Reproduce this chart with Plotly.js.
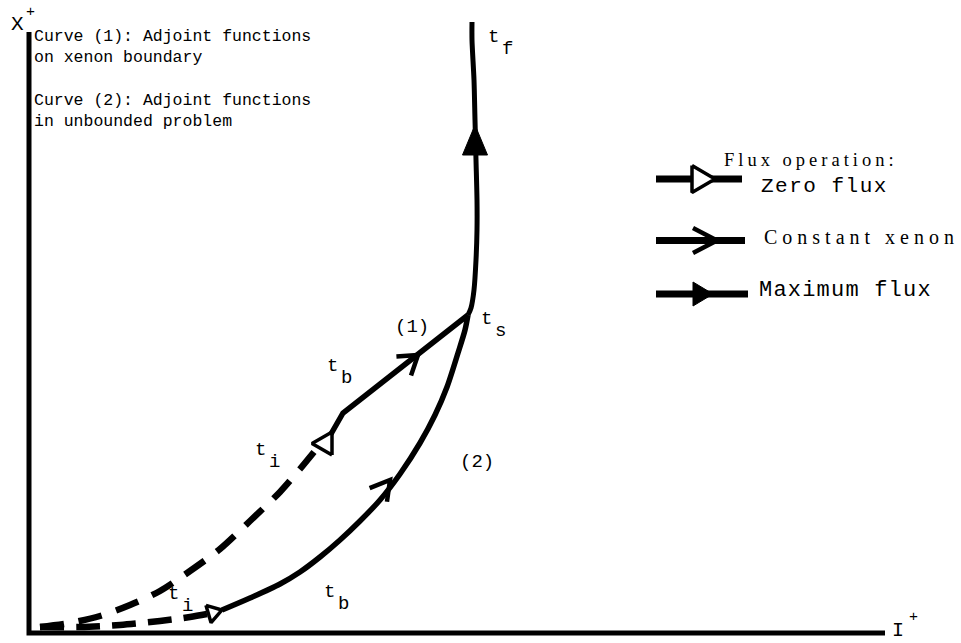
<!DOCTYPE html>
<html>
<head>
<meta charset="utf-8">
<script src="https://cdn.plot.ly/plotly-3.0.1.min.js"></script>
<style>
  html, body { margin: 0; padding: 0; background: #ffffff; }
  #chart { width: 961px; height: 643px; }
</style>
</head>
<body>
<div id="chart"></div>
<script>
// Phase-plane sketch: X+ (vertical) against I+ (horizontal), origin at the axes corner.

// Axes drawn as one L-shaped line
const axisX = [0, 0, 856];
const axisY = [601, 0, 0];

// Common trunk from t_s up to t_f (maximum flux)
const trunkX = [439, 442, 445, 447, 448, 448, 447, 446, 445, 443, 443];
const trunkY = [318, 325, 343, 373, 403, 433, 473, 513, 553, 593, 611];

// Curve (1): dashed zero-flux leg, then constant-xenon segment to t_s
const curve1DashX = [11, 41, 71, 101, 131, 161, 191, 221, 251, 271, 285];
const curve1DashY = [6, 10, 17, 28, 42, 62, 84, 112, 141, 164, 181];
const curve1X = [302, 308, 314, 439];
const curve1Y = [199, 211, 220, 318];

// Curve (2): dashed zero-flux leg, then constant-xenon arc to t_s
const curve2DashX = [11, 51, 91, 131, 161, 178];
const curve2DashY = [6, 6, 8, 12, 16, 19];
const curve2X = [193, 221, 251, 271, 291, 311, 331, 351, 371, 391, 406, 418, 429, 436, 439];
const curve2Y = [23, 35, 49, 61, 76, 93, 112, 133, 159, 190, 218, 246, 280, 303, 318];

// Direction marks along the paths
const headKind = ['open', 'open', 'solid', 'chevron', 'chevron'];
const headX = [179.5, 303, 446, 389, 361];
const headY = [19, 189.5, 478, 278, 153];
const headDir = [16.5, 180, 90, 37.5, 52];

// Point labels (t_i, t_b, t_s, t_f and curve numbers)
const labelMain = ['t', 't', '(1)', 't', 't', '(2)', 't', 't'];
const labelSub = ['f', 's', '', 'b', 'i', '', 'i', 'b'];
const labelX = [464, 457, 383, 303, 231, 448, 144, 300];
const labelY = [596, 314, 306, 267, 183, 171, 39, 41];

// Key for the flux operations
const keyTitle = 'Flux operation:';
const keyLabels = ['Zero flux', 'Constant xenon', 'Maximum flux'];
const keyKind = ['open', 'chevron', 'solid'];
const keyRowY = [454, 392.5, 339];

// ---- styling ----
const INK = '#000000';
const MONO = 'Liberation Mono, Courier New, monospace';
const SERIF = 'Liberation Serif, Times New Roman, serif';
const headSize = { open: [[14, 9], [20, 11.5]], solid: [[30, 12.5]], chevron: [[18, 12], [19, 11]] };
const keyLine = { x0: 627, x1: [713, 716, 719] };
const keyHead = { x: [663, 688, 664], len: [23, 24, 20], half: [13.5, 12.5, 12] };
const keyText = { x: [730, 733, 728], y: [447, 396, 343], spacing: [1.5, 5, 1.2],
                  font: [MONO, SERIF, MONO], size: [21, 20, 22] };
const subShift = [14.5, -12];

function arrowHead(kind, x, y, dirDeg, len, half) {
  const a = dirDeg * Math.PI / 180;
  const ux = Math.cos(a), uy = Math.sin(a);
  const px = -uy, py = ux;
  let xs, ys;
  if (kind === 'chevron') {
    const bx = x - ux * len, by = y - uy * len;
    xs = [bx + px * half, x, bx - px * half];
    ys = [by + py * half, y, by - py * half];
    return { type: 'scatter', mode: 'lines', x: xs, y: ys, hoverinfo: 'skip',
             line: { color: INK, width: 4.5 } };
  }
  const tx = x + ux * len, ty = y + uy * len;
  xs = [x + px * half, tx, x - px * half, x + px * half];
  ys = [y + py * half, ty, y - py * half, y + py * half];
  return { type: 'scatter', mode: 'lines', x: xs, y: ys, fill: 'toself', hoverinfo: 'skip',
           fillcolor: kind === 'solid' ? INK : '#ffffff',
           line: { color: INK, width: kind === 'solid' ? 1 : 3.5 } };
}

function path(x, y, width, opts) {
  return Object.assign({ type: 'scatter', mode: 'lines', x: x, y: y, hoverinfo: 'skip',
    line: Object.assign({ color: INK, width: width }, opts || {}) });
}

const traces = [];
traces.push(path(axisX, axisY, 5));
traces.push(path(trunkX, trunkY, 5, { shape: 'spline', smoothing: 0.8 }));
traces.push(path(curve1DashX, curve1DashY, 6.5, { shape: 'spline', smoothing: 0.8, dash: '24px,15px' }));
traces.push(path(curve1X, curve1Y, 5.5));
traces.push(path(curve2DashX, curve2DashY, 6.5, { shape: 'spline', smoothing: 0.8, dash: '24px,12px' }));
traces.push(path(curve2X, curve2Y, 5.5, { shape: 'spline', smoothing: 0.8 }));

const used = { open: 0, solid: 0, chevron: 0 };
headKind.forEach((k, i) => {
  const s = headSize[k][used[k]++];
  traces.push(arrowHead(k, headX[i], headY[i], headDir[i], s[0], s[1]));
});

keyLabels.forEach((lab, i) => {
  traces.push(path([keyLine.x0, keyLine.x1[i]], [keyRowY[i], keyRowY[i]], 7));
  traces.push(arrowHead(keyKind[i], keyHead.x[i], keyRowY[i], 0, keyHead.len[i], keyHead.half[i]));
});

const annotations = [];
const spacing = {};
function note(text, x, y, font, size, xanchor, yanchor) {
  const xa = xanchor || 'center';
  annotations.push({ text: text, x: x, y: y, xref: 'x', yref: 'y', showarrow: false,
    xanchor: xa, yanchor: yanchor || 'middle', align: xa,
    font: { family: font, size: size, color: INK } });
  return annotations.length - 1;
}

// axis names
note('X', -12, 609, MONO, 21);
note('+', 1, 621, MONO, 15);
note('I', 869, 3, MONO, 20);
note('+', 884, 16, MONO, 15);

// curve descriptions
note('Curve (1): Adjoint functions<br>on xenon boundary', 3, 586, MONO, 16.5, 'left');
note('Curve (2): Adjoint functions<br>in unbounded problem', 3, 522, MONO, 16.5, 'left');

// point labels
labelMain.forEach((t, i) => {
  note(t, labelX[i], labelY[i], MONO, 19);
  if (labelSub[i]) note(labelSub[i], labelX[i] + subShift[0], labelY[i] + subShift[1], MONO, 19);
});

// key text
spacing[note(keyTitle, 693, 473, SERIF, 18.5, 'left')] = 4;
keyLabels.forEach((lab, i) => {
  spacing[note(lab, keyText.x[i], keyText.y[i], keyText.font[i], keyText.size[i], 'left')] = keyText.spacing[i];
});

const layout = {
  width: 961, height: 643,
  margin: { l: 0, r: 0, t: 0, b: 0 },
  paper_bgcolor: '#ffffff', plot_bgcolor: '#ffffff',
  showlegend: false,
  xaxis: { range: [-29, 932], visible: false, fixedrange: true },
  yaxis: { range: [-10, 633], visible: false, fixedrange: true },
  annotations: annotations
};

Plotly.newPlot('chart', traces, layout, { staticPlot: true }).then(() => {
  document.querySelectorAll('#chart .annotation').forEach(g => {
    const i = +g.getAttribute('data-index');
    if (spacing[i]) {
      const t = g.querySelector('.annotation-text');
      if (t) t.style.letterSpacing = spacing[i] + 'px';
    }
  });
});
</script>
</body>
</html>
